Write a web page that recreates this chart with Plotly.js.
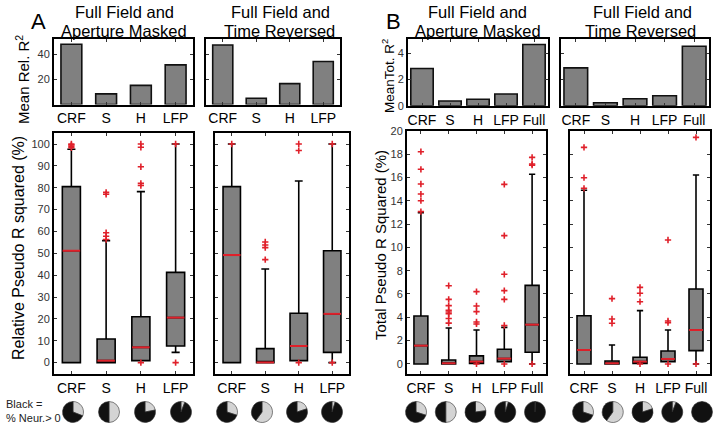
<!DOCTYPE html>
<html><head><meta charset="utf-8">
<script src="https://cdn.plot.ly/plotly-3.0.1.min.js"></script>
<style>html,body{margin:0;padding:0;background:#fff}#chart{width:714px;height:428px}</style>
</head><body><div id="chart"></div>
<script>
// ---------- data ----------
const catsA = ['CRF', 'S', 'H', 'LFP'];
const catsB = ['CRF', 'S', 'H', 'LFP', 'Full'];

// mean bars
const meanRelAM = [48.2, 8.5, 15.3, 31.7];
const meanRelTR = [47.6, 5.0, 16.7, 34.4];
const meanTotAM = [2.84, 0.36, 0.49, 0.89, 4.67];
const meanTotTR = [2.89, 0.23, 0.53, 0.76, 4.54];

// Relative pseudo R^2 (%) — Aperture masked
const relAM_q1  = [0, 0, 0.9, 7.6];
const relAM_med = [51.2, 0.9, 7.0, 20.6];
const relAM_q3  = [80.5, 10.8, 21.0, 41.3];
const relAM_lo  = [0, 0, 0.9, 4.7];
const relAM_hi  = [97.6, 55.8, 78.2, 100];
const relAM_out = [[98.3, 99.0, 99.6, 100], [56.3, 57.8, 59.4, 77.0, 77.9], [0, 81.0, 82.0, 89.6, 98.5, 100], [0, 100]];

// Relative pseudo R^2 (%) — Time reversed
const relTR_q1  = [0, 0, 0.9, 4.7];
const relTR_med = [49.2, 0.1, 7.6, 22.3];
const relTR_q3  = [80.5, 6.4, 22.6, 51.2];
const relTR_lo  = [0, 0, 0.9, 0];
const relTR_hi  = [100, 42.8, 83.1, 100];
const relTR_out = [[100], [47.1, 52.6, 53.8, 55.2], [0, 97.0, 100], [0, 100]];

// Total pseudo R^2 (%) — Aperture masked
const totAM_q1  = [0, 0, 0.05, 0.2, 1.0];
const totAM_med = [1.57, 0.06, 0.2, 0.46, 3.37];
const totAM_q3  = [4.11, 0.34, 0.69, 1.26, 6.74];
const totAM_lo  = [0, 0, 0.05, 0.2, 0];
const totAM_hi  = [12.97, 3.09, 2.91, 3.14, 16.26];
const totAM_out = [[13.06, 14.0, 14.57, 15.43, 16.69, 18.2], [3.5, 3.9, 4.3, 4.45, 4.6, 5.0, 5.54, 6.71], [0, 3.43, 3.6, 4.49, 4.97, 6.2], [0, 3.3, 5.54, 6.29, 7.69, 11.0, 15.4], [0, 17.05, 17.15, 17.71]];

// Total pseudo R^2 (%) — Time reversed
const totTR_q1  = [0, 0, 0.05, 0.2, 1.14];
const totTR_med = [1.2, 0.06, 0.2, 0.43, 2.91];
const totTR_q3  = [4.14, 0.26, 0.57, 1.11, 6.43];
const totTR_lo  = [0, 0, 0.05, 0.2, 0];
const totTR_hi  = [14.9, 1.63, 4.57, 2.91, 16.2];
const totTR_out = [[15.06, 15.97, 18.57], [3.49, 3.86, 5.6], [0, 5.34, 6.06, 6.57], [0, 3.54, 3.69, 10.63], [0, 19.43]];

// fraction of neurons > 0 (black part of pies)
const blackRelAM = [0.69, 0.50, 0.78, 0.94];
const blackRelTR = [0.70, 0.40, 0.80, 0.95];
const blackTotAM = [0.70, 0.50, 0.77, 0.95, 0.995];
const blackTotTR = [0.70, 0.40, 0.80, 0.94, 1.0];

// ---------- styling / layout helpers ----------
const W = 714, H = 428;
const fx = p => p / W;
const fy = p => 1 - p / H;
const RED = '#e0202a';
const GRAY = '#808080';
const FONT = 'Liberation Sans, Arial, sans-serif';

const traces = [];
const layout = {
  width: W, height: H, margin: {l: 0, r: 0, t: 0, b: 0},
  paper_bgcolor: '#fff', plot_bgcolor: '#fff',
  showlegend: false, hovermode: false,
  font: {family: FONT, color: '#000'},
  annotations: []
};

function axStyle(extra) {
  return Object.assign({
    showline: true, linecolor: '#000', linewidth: 2, mirror: 'ticks',
    ticks: 'inside', ticklen: 3, tickcolor: '#333', tickwidth: 1,
    showgrid: false, zeroline: false, fixedrange: true,
    tickfont: {family: FONT, size: 11, color: '#333'}
  }, extra);
}

let axN = 0;
function addAxes(xPx, yPx, cats, yrange, ytick, showYLabels, xfont) {
  axN++;
  const xk = axN === 1 ? 'xaxis' : 'xaxis' + axN;
  const yk = axN === 1 ? 'yaxis' : 'yaxis' + axN;
  const xr = axN === 1 ? 'x' : 'x' + axN;
  const yr = axN === 1 ? 'y' : 'y' + axN;
  layout[xk] = axStyle({
    domain: [fx(xPx[0]), fx(xPx[1])], anchor: yr, type: 'category',
    range: [-0.5, cats.length - 0.5], categoryarray: cats, categoryorder: 'array',
    tickfont: {family: FONT, size: xfont, color: '#000'}
  });
  layout[yk] = axStyle({
    domain: [fy(yPx[1]), fy(yPx[0])], anchor: xr, range: yrange,
    tickmode: 'array', tickvals: ytick, showticklabels: showYLabels
  });
  return {x: xr, y: yr};
}

function addBars(ax, cats, vals, width) {
  traces.push({type: 'bar', x: cats, y: vals, xaxis: ax.x, yaxis: ax.y, width: width,
    marker: {color: GRAY, line: {color: '#111', width: 1.6}}});
}

function addBoxes(ax, cats, q1, med, q3, lo, hi, out, bw, medSize) {
  traces.push({type: 'box', x: cats, q1: q1, median: med, q3: q3, lowerfence: lo, upperfence: hi,
    xaxis: ax.x, yaxis: ax.y, width: bw, whiskerwidth: 0.45, boxpoints: false,
    fillcolor: GRAY, line: {color: '#000', width: 1.6}});
  traces.push({type: 'scatter', mode: 'markers', x: cats, y: med, xaxis: ax.x, yaxis: ax.y,
    marker: {symbol: 'line-ew', size: medSize, color: RED, line: {color: RED, width: 2}}});
  const ox = [], oy = [];
  out.forEach((arr, i) => arr.forEach(v => { ox.push(cats[i]); oy.push(v); }));
  traces.push({type: 'scatter', mode: 'markers', x: ox, y: oy, xaxis: ax.x, yaxis: ax.y,
    marker: {symbol: 'cross-thin', size: 4.5, color: RED, line: {color: RED, width: 1.6}}});
}

function addPies(blackFrac, x0, x1, yc, r) {
  const n = blackFrac.length;
  blackFrac.forEach((b, i) => {
    const cx = x0 + (x1 - x0) * i / (n - 1);
    traces.push({type: 'pie', values: [1 - b, b], sort: false, direction: 'clockwise', rotation: 0,
      textinfo: 'none', hoverinfo: 'skip',
      marker: {colors: ['#d4d4d4', '#111111'], line: {color: '#333', width: 0.6}},
      domain: {x: [fx(cx - r), fx(cx + r)], y: [fy(yc + r), fy(yc - r)]}});
  });
}

// ---------- top bar charts ----------
const aTopA1 = addAxes([54, 193], [39, 104.5], catsA, [0, 52.4], [20, 40], true, 14);
addBars(aTopA1, catsA, meanRelAM, 0.6);
const aTopA2 = addAxes([206, 340], [39, 104.5], catsA, [0, 52.4], [20, 40], false, 14);
addBars(aTopA2, catsA, meanRelTR, 0.6);
const aTopB1 = addAxes([408, 548], [39, 105.7], catsB, [0, 5.09], [0, 2, 4], true, 14);
addBars(aTopB1, catsB, meanTotAM, 0.8);
const aTopB2 = addAxes([561, 709], [39, 105.7], catsB, [0, 5.09], [0, 2, 4], false, 14);
addBars(aTopB2, catsB, meanTotTR, 0.8);

// ---------- box plots ----------
const ticksRel = [0, 10, 20, 30, 40, 50, 60, 70, 80, 90, 100];
const ticksTot = [0, 2, 4, 6, 8, 10, 12, 14, 16, 18, 20];
const aBoxA1 = addAxes([54, 193], [133.3, 374], catsA, [-5.2, 104.9], ticksRel, true, 14);
addBoxes(aBoxA1, catsA, relAM_q1, relAM_med, relAM_q3, relAM_lo, relAM_hi, relAM_out, 0.52, 12.5);
const aBoxA2 = addAxes([215, 349], [133.3, 374], catsA, [-5.2, 104.9], ticksRel, false, 14);
addBoxes(aBoxA2, catsA, relTR_q1, relTR_med, relTR_q3, relTR_lo, relTR_hi, relTR_out, 0.52, 12.5);
const aBoxB1 = addAxes([407, 546], [130.7, 374], catsB, [-0.86, 20], ticksTot, true, 14);
addBoxes(aBoxB1, catsB, totAM_q1, totAM_med, totAM_q3, totAM_lo, totAM_hi, totAM_out, 0.5, 9.8);
const aBoxB2 = addAxes([570, 710], [130.7, 374], catsB, [-0.86, 20], ticksTot, false, 14);
addBoxes(aBoxB2, catsB, totTR_q1, totTR_med, totTR_q3, totTR_lo, totTR_hi, totTR_out, 0.5, 9.8);

// ---------- pies ----------
addPies(blackRelAM, 73, 181, 412, 10.5);
addPies(blackRelTR, 227, 332, 412, 10.5);
addPies(blackTotAM, 416, 535, 412, 10.5);
addPies(blackTotTR, 583, 702, 412, 10.5);

// ---------- text ----------
function txt(text, xp, yp, size, opts) {
  layout.annotations.push(Object.assign({
    text: text, x: fx(xp), y: fy(yp), xref: 'paper', yref: 'paper',
    showarrow: false, xanchor: 'center', yanchor: 'middle',
    font: {family: FONT, size: size, color: '#000'}
  }, opts || {}));
}
txt('Full Field and', 124, 12, 16.5);
txt('Aperture Masked', 124, 31, 16.5);
txt('Full Field and', 280, 12, 16.5);
txt('Time Reversed', 279, 31, 16.5);
txt('Full Field and', 478, 12, 16.5);
txt('Aperture Masked', 478, 31, 16.5);
txt('Full Field and', 642, 12, 16.5);
txt('Time Reversed', 640, 31, 16.5);
txt('A', 38, 22, 22);
txt('B', 393, 22, 22);
txt('Mean Rel. R<sup>2</sup>', 22, 80, 15, {textangle: -90});
txt('Relative Pseudo R squared (%)', 19, 248, 16, {textangle: -90});
txt('MeanTot. R<sup>2</sup>', 388, 76, 13.5, {textangle: -90});
txt('Total Pseudo R Squared (%)', 380, 245, 15, {textangle: -90});
txt('Black =', 4, 404, 11, {xanchor: 'left', font: {family: FONT, size: 11, color: '#222'}});
txt('% Neur.> 0', 4, 418, 11, {xanchor: 'left', font: {family: FONT, size: 11, color: '#222'}});

Plotly.newPlot('chart', traces, layout, {staticPlot: true, displayModeBar: false});
</script>
</body></html>
